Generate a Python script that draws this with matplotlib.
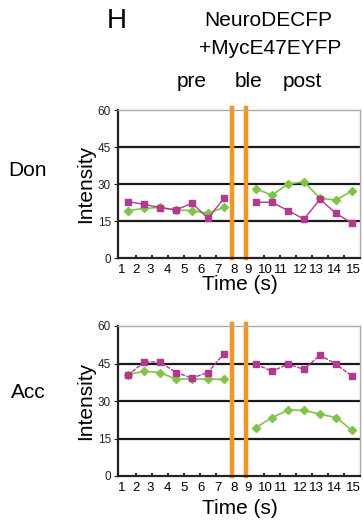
import matplotlib.pyplot as plt
import numpy as np

plt.rcParams['font.family'] = ['Liberation Sans', 'DejaVu Sans']

# time points
t_pre = [1, 2, 3, 4, 5, 6, 7]
t_post = [9, 10, 11, 12, 13, 14, 15]
xlabels = [str(i) for i in range(1, 16)]

# Don (donor)
don_mag_pre = [22.8, 21.8, 20.4, 19.5, 22.2, 16.1, 24.2]
don_grn_pre = [19.2, 20.1, 20.5, 19.5, 19.2, 18.1, 20.5]
don_mag_post = [22.6, 22.6, 19.2, 15.8, 23.8, 18.1, 14.1]
don_grn_post = [28.0, 25.5, 30.0, 30.9, 24.2, 23.5, 27.2]

# Acc (acceptor)
acc_mag_pre = [40.3, 45.6, 45.6, 41.4, 39.2, 41.4, 49.0]
acc_grn_pre = [40.6, 41.9, 41.4, 38.7, 38.9, 38.7, 38.7]
acc_mag_post = [44.7, 41.9, 44.7, 42.7, 48.3, 44.7, 40.0]
acc_grn_post = [19.4, 23.4, 26.3, 26.3, 24.7, 23.4, 18.3]

magenta = '#b4388f'
green = '#80c447'
orange = '#f7941d'

W, H = 363, 523
fig = plt.figure(figsize=(W / 100, H / 100), dpi=100)

# pixel -> data helper for x (points at 16 px spacing, x=1 at px 128)
def px2x(px):
    return (px - 128) / 16 + 1

label_px = [122, 136, 150, 167, 184, 201, 218, 234, 248, 265, 281, 300, 316, 334, 353]
label_x = [px2x(p) for p in label_px]


def panel(top_px, bot_px, mag_pre, grn_pre, mag_post, grn_post, mag_ls, row_label, label_y):
    ax = fig.add_axes([118 / W, 1 - bot_px / H, 242 / W, (bot_px - top_px) / H])
    ax.set_xlim(px2x(118), px2x(360))
    ax.set_ylim(0, 60)
    for y in [15, 30, 45]:
        ax.axhline(y, color='#1a1a1a', lw=1.6, zorder=1)
    for xv in [px2x(232), px2x(246)]:
        ax.axvline(xv, ymin=0, ymax=1.015, color=orange, lw=3.2, zorder=2, clip_on=False)

    for xs, ys in [(t_pre, grn_pre), (t_post, grn_post)]:
        ax.plot(xs, ys, color=green, lw=1.2, marker='D', ms=4.3, mec=green, zorder=3)
    for xs, ys in [(t_pre, mag_pre), (t_post, mag_post)]:
        ax.plot(xs, ys, color=magenta, lw=1.0, ls=mag_ls, marker='s', ms=4.5, mec=magenta, zorder=4)

    ax.spines['left'].set_linewidth(1.6)
    ax.spines['bottom'].set_linewidth(1.6)
    ax.spines['left'].set_color('#222222')
    ax.spines['bottom'].set_color('#222222')
    ax.spines['top'].set_color('#b5aaa0')
    ax.spines['right'].set_color('#b5aaa0')
    ax.spines['top'].set_linewidth(1.0)
    ax.spines['right'].set_linewidth(1.0)

    ax.set_yticks([0, 15, 30, 45, 60])
    ax.tick_params(axis='y', length=3, width=0.8, labelsize=8.5, pad=2, colors='#222222')
    ax.set_xticks([1.5, 2.5, 3.5, 4.5, 5.5, 6.5, 9.5, 10.5, 11.5, 12.5, 13.5, 14.5])
    ax.tick_params(axis='x', direction='in', length=2, width=1.2, labelbottom=False)

    for lx, lab in zip(label_x, xlabels):
        ax.text(lx, -0.04, lab, transform=ax.get_xaxis_transform(), ha='center', va='top', fontsize=9.5)

    ax.set_ylabel('Intensity', fontsize=15, labelpad=2)
    fig.text(28 / W, 1 - label_y / H, row_label, fontsize=15, ha='center', va='center')
    return ax


ax1 = panel(110, 258, don_mag_pre, don_grn_pre, don_mag_post, don_grn_post, '-', 'Don', 170)
fig.text(240 / W, 1 - 285 / H, 'Time (s)', fontsize=15, ha='center', va='center')

ax2 = panel(326, 476, acc_mag_pre, acc_grn_pre, acc_mag_post, acc_grn_post, (0, (3, 1)), 'Acc', 392)
fig.text(240 / W, 1 - 508 / H, 'Time (s)', fontsize=15, ha='center', va='center')

fig.text(117 / W, 1 - 21 / H, 'H', fontsize=20, ha='center', va='center')
fig.text(268 / W, 1 - 21 / H, 'NeuroDECFP', fontsize=15, ha='center', va='center')
fig.text(270 / W, 1 - 48 / H, '+MycE47EYFP', fontsize=15, ha='center', va='center')
fig.text(192 / W, 1 - 82 / H, 'pre', fontsize=15, ha='center', va='center')
fig.text(249 / W, 1 - 82 / H, 'ble', fontsize=15, ha='center', va='center')
fig.text(302 / W, 1 - 82 / H, 'post', fontsize=15, ha='center', va='center')

fig.savefig('out.png', dpi=100)
